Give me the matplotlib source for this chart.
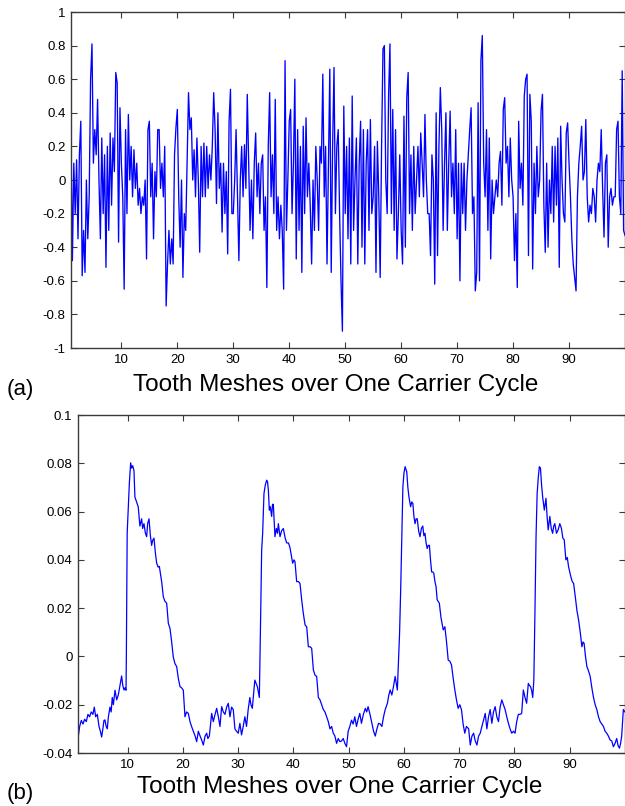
import numpy as np
import matplotlib
matplotlib.use("Agg")
import matplotlib.pyplot as plt
from matplotlib.ticker import FuncFormatter

plt.rcParams['font.family'] = ['Liberation Sans', 'DejaVu Sans']
plt.rcParams['axes.unicode_minus'] = False

# Panel (a): señal leida a 4 muestras por diente, desde x=1 hasta x=100
valores_a = [
    0.27, -0.48, 0.10, -0.20,
    0.12, -0.35, 0.15, 0.35,
    -0.57, -0.30, -0.55, 0.00,
    -0.35, -0.10, 0.60, 0.81,
    0.10, 0.30, 0.15, 0.48,
    0.00, -0.35, 0.25, -0.20,
    0.15, -0.52, 0.20, -0.30,
    0.28, -0.15, 0.25, 0.05,
    0.64, 0.58, -0.37, 0.43,
    0.10, -0.10, -0.65, 0.30,
    -0.20, 0.39, 0.00, 0.20,
    -0.10, 0.18, -0.05, 0.10,
    -0.15, -0.05, -0.20, -0.10,
    -0.15, 0.00, -0.47, 0.30,
    0.35, -0.10, 0.10, -0.35,
    0.05, -0.10, 0.30, 0.30,
    -0.05, 0.10, -0.10, 0.20,
    -0.75, -0.50, -0.30, -0.50,
    -0.35, -0.50, 0.15, 0.31,
    0.42, -0.10, -0.40, 0.00,
    -0.58, -0.20, -0.30, 0.10,
    0.52, 0.30, 0.37, 0.00,
    0.18, -0.10, 0.25, 0.00,
    -0.43, 0.20, -0.10, 0.22,
    -0.10, 0.20, -0.05, 0.15,
    0.00, 0.20, 0.52, 0.30,
    -0.14, 0.40, -0.05, 0.10,
    -0.31, 0.10, -0.20, 0.05,
    -0.44, 0.35, 0.54, -0.20,
    -0.20, 0.00, 0.30, -0.10,
    -0.48, 0.00, 0.20, -0.10,
    0.21, -0.05, 0.51, 0.10,
    -0.30, 0.00, -0.35, 0.10,
    0.28, -0.10, 0.10, -0.20,
    0.10, 0.15, -0.30, -0.10,
    -0.64, 0.20, 0.52, -0.10,
    0.15, -0.20, 0.48, -0.30,
    -0.10, -0.35, -0.15, -0.30,
    -0.65, 0.71, -0.30, 0.00,
    0.35, 0.42, -0.20, 0.10,
    0.60, -0.47, 0.30, -0.30,
    0.20, -0.55, 0.32, -0.20,
    0.37, -0.10, 0.10, -0.15,
    -0.50, 0.00, -0.30, 0.20,
    0.00, -0.30, 0.20, 0.10,
    0.63, -0.10, 0.20, -0.50,
    0.10, 0.66, -0.55, 0.20,
    0.67, -0.20, 0.20, 0.30,
    -0.20, -0.60, -0.90, 0.44,
    -0.20, 0.20, -0.35, 0.25,
    -0.50, 0.50, -0.30, 0.00,
    0.25, -0.50, 0.10, 0.35,
    -0.40, 0.30, -0.50, 0.10,
    0.30, -0.30, 0.36, -0.20,
    -0.10, 0.20, -0.55, 0.23,
    -0.10, -0.58, 0.20, 0.78,
    0.80, 0.00, -0.20, 0.50,
    0.81, -0.20, 0.42, -0.30,
    0.30, -0.47, -0.20, 0.15,
    -0.30, -0.50, 0.38, -0.40,
    0.49, 0.64, -0.20, 0.15,
    -0.30, 0.20, -0.20, 0.00,
    0.20, -0.10, 0.28, 0.10,
    -0.10, 0.39, 0.00, -0.20,
    -0.20, -0.45, 0.15, 0.00,
    -0.62, 0.40, -0.45, 0.20,
    0.55, 0.30, -0.30, 0.10,
    0.40, -0.30, 0.10, 0.41,
    -0.10, 0.10, -0.20, 0.30,
    -0.35, 0.10, -0.60, 0.10,
    -0.20, 0.10, -0.30, 0.00,
    0.15, 0.30, 0.43, -0.20,
    -0.10, -0.66, -0.55, 0.46,
    -0.60, 0.71, 0.86, 0.10,
    -0.10, 0.30, -0.30, 0.25,
    -0.47, 0.00, -0.20, -0.10,
    0.00, -0.10, 0.10, 0.17,
    -0.15, 0.42, 0.49, 0.10,
    0.20, -0.10, 0.25, 0.00,
    -0.10, -0.48, -0.20, -0.64,
    0.35, -0.05, 0.10, -0.15,
    0.50, 0.60, 0.63, -0.45,
    0.51, 0.35, -0.53, 0.10,
    -0.20, 0.20, -0.10, 0.00,
    0.41, 0.51, -0.15, -0.43,
    0.10, -0.40, 0.00, -0.20,
    0.20, -0.25, 0.20, -0.15,
    0.25, -0.52, 0.32, 0.00,
    -0.20, -0.25, 0.28, 0.34,
    0.10, -0.10, -0.35, -0.50,
    -0.58, -0.66, -0.10, 0.10,
    0.20, 0.32, 0.00, 0.05,
    0.36, -0.10, -0.25, -0.15,
    -0.20, -0.05, -0.10, -0.25,
    0.00, 0.10, 0.05, 0.30,
    -0.05, -0.34, 0.10, 0.15,
    -0.40, -0.10, -0.05, -0.15,
    -0.10, -0.10, 0.30, 0.35,
    -0.10, -0.20, 0.65, -0.30,
    -0.33,
]
x_a = 1 + 0.25 * np.arange(len(valores_a))

# Panel (b): puntos (x, y)
x_b = [1.0, 1.3, 1.6, 1.9, 2.2, 2.5, 2.8, 3.1, 3.4, 3.7, 3.95, 4.2, 4.5, 4.8, 5.05, 5.28,
       5.5, 5.7, 5.88, 6.1, 6.3, 6.5, 6.79, 7.0, 7.2, 7.4, 7.7, 8.0, 8.3, 8.6, 8.9, 9.1,
       9.32, 9.5, 9.69, 9.75, 9.81, 9.9, 10.1, 10.3, 10.53, 10.7, 10.9, 11.13, 11.3, 11.6,
       11.9, 12.2, 12.52, 12.7, 12.94, 13.2, 13.43, 13.6, 13.85, 14.1, 14.33, 14.5, 14.75,
       15.0, 15.24, 15.5, 15.72, 16.14, 16.44, 16.7, 17.05, 17.35, 17.65, 17.95, 18.25,
       18.55, 18.86, 19.15, 19.46, 19.75, 20.06, 20.36, 20.65, 20.97, 21.27, 21.57, 21.87,
       22.2, 22.48, 22.78, 23.1, 23.38, 23.68, 24.0, 24.29, 24.5, 24.77, 25.0, 25.19,
       25.49, 25.8, 26.1, 26.4, 26.7, 27.0, 27.3, 27.6, 27.9, 28.2, 28.5, 28.8, 29.1, 29.4,
       29.7, 30.0, 30.3, 30.6, 30.9, 31.2, 31.5, 31.8, 32.1, 32.3, 32.55, 32.8, 33.0, 33.2,
       33.46, 33.65, 33.82, 33.95, 34.06, 34.24, 34.42, 34.66, 34.9, 35.15, 35.3, 35.45,
       35.63, 35.8, 36.05, 36.2, 36.35, 36.65, 36.9, 37.1, 37.26, 37.56, 37.85, 38.16,
       38.5, 38.77, 39.1, 39.37, 39.85, 40.1, 40.27, 40.57, 40.9, 41.18, 41.48, 41.78,
       42.1, 42.39, 42.69, 43.0, 43.29, 43.6, 43.89, 44.2, 44.5, 44.8, 45.1, 45.4, 45.7,
       46.0, 46.3, 46.6, 46.9, 47.2, 47.5, 47.8, 48.1, 48.4, 48.7, 49.0, 49.3, 49.6, 49.9,
       50.2, 50.5, 50.8, 51.1, 51.4, 51.7, 52.0, 52.3, 52.65, 53.0, 53.25, 53.5, 53.85,
       54.2, 54.5, 54.8, 55.1, 55.4, 55.7, 56.0, 56.3, 56.6, 57.0, 57.25, 57.5, 57.8, 58.1,
       58.4, 58.6, 58.8, 59.2, 59.4, 59.5, 59.6, 59.8, 60.0, 60.2, 60.5, 60.7, 60.9, 61.2,
       61.4, 61.6, 61.8, 62.0, 62.2, 62.4, 62.65, 62.9, 63.15, 63.4, 63.6, 63.8, 64.0,
       64.2, 64.4, 64.6, 64.8, 65.0, 65.2, 65.4, 65.6, 65.8, 66.0, 66.4, 66.7, 67.1, 67.4,
       67.7, 68.0, 68.3, 68.6, 68.9, 69.2, 69.5, 69.8, 70.1, 70.4, 70.7, 71.0, 71.3, 71.7,
       72.0, 72.3, 72.6, 72.9, 73.2, 73.5, 73.8, 74.1, 74.4, 74.7, 75.0, 75.3, 75.6, 75.9,
       76.2, 76.5, 76.8, 77.1, 77.4, 77.7, 78.0, 78.3, 78.6, 78.9, 79.2, 79.5, 79.8, 80.1,
       80.4, 80.7, 81.0, 81.3, 81.6, 81.9, 82.2, 82.5, 82.7, 82.9, 83.1, 83.3, 83.5, 83.7,
       83.9, 84.1, 84.3, 84.5, 84.7, 84.9, 85.1, 85.4, 85.7, 85.9, 86.1, 86.4, 86.65, 86.9,
       87.1, 87.3, 87.6, 87.9, 88.2, 88.5, 88.75, 89.0, 89.3, 89.55, 89.8, 90.0, 90.2,
       90.45, 90.7, 91.0, 91.3, 91.6, 91.9, 92.2, 92.4, 92.6, 92.85, 93.1, 93.4, 93.7,
       94.0, 94.3, 94.6, 94.9, 95.2, 95.5, 95.8, 96.1, 96.4, 96.7, 97.0, 97.3, 97.6, 97.9,
       98.2, 98.5, 98.75, 99.0, 99.2, 99.4, 99.7, 100.0]
y_b = [-0.034, -0.029, -0.0265, -0.028, -0.026, -0.027, -0.024, -0.025, -0.023, -0.024,
       -0.021, -0.025, -0.024, -0.029, -0.031, -0.0334, -0.030, -0.0265, -0.0263, -0.029,
       -0.030, -0.025, -0.021, -0.023, -0.017, -0.020, -0.014, -0.018, -0.0159, -0.012,
       -0.0081, -0.012, -0.0139, -0.013, -0.014, 0.0, 0.0234, 0.051, 0.062, 0.072, 0.0802,
       0.078, 0.079, 0.077, 0.066, 0.064, 0.062, 0.054, 0.057, 0.053, 0.055, 0.051, 0.0496,
       0.055, 0.057, 0.050, 0.046, 0.048, 0.049, 0.043, 0.0386, 0.037, 0.0373, 0.031,
       0.0247, 0.023, 0.022, 0.0137, 0.0116, 0.006, -0.0003, -0.003, -0.0042, -0.009,
       -0.0125, -0.013, -0.014, -0.025, -0.023, -0.0236, -0.027, -0.0291, -0.031, -0.033,
       -0.0353, -0.031, -0.033, -0.0346, -0.0367, -0.033, -0.0318, -0.034, -0.033, -0.028,
       -0.0236, -0.027, -0.024, -0.0215, -0.025, -0.029, -0.0208, -0.023, -0.024, -0.021,
       -0.0194, -0.025, -0.021, -0.022, -0.030, -0.031, -0.0318, -0.0277, -0.0325, -0.029,
       -0.025, -0.029, -0.022, -0.017, -0.020, -0.0215, -0.015, -0.0098, -0.011, -0.0125,
       -0.015, -0.017, 0.0, 0.017, 0.044, 0.051, 0.0675, 0.071, 0.073, 0.0724, 0.069,
       0.0606, 0.062, 0.058, 0.063, 0.063, 0.0496, 0.053, 0.051, 0.055, 0.0496, 0.052,
       0.053, 0.049, 0.047, 0.047, 0.045, 0.0386, 0.040, 0.0393, 0.031, 0.031, 0.0302,
       0.0235, 0.0178, 0.013, 0.0123, 0.004, 0.004, 0.0034, -0.0056, -0.0077, -0.0083,
       -0.017, -0.018, -0.020, -0.022, -0.023, -0.025, -0.027, -0.030, -0.029, -0.0318,
       -0.033, -0.036, -0.034, -0.0353, -0.035, -0.034, -0.036, -0.0374, -0.031, -0.029,
       -0.0264, -0.028, -0.025, -0.029, -0.026, -0.0236, -0.0277, -0.024, -0.0215, -0.023,
       -0.0208, -0.024, -0.0277, -0.031, -0.033, -0.030, -0.0277, -0.028, -0.029, -0.025,
       -0.022, -0.0194, -0.016, -0.0139, -0.016, -0.0125, -0.0083, -0.011, -0.0139, 0.0096,
       0.0275, 0.0386, 0.051, 0.0703, 0.076, 0.0786, 0.0765, 0.070, 0.066, 0.062, 0.064,
       0.0634, 0.058, 0.055, 0.057, 0.057, 0.052, 0.0496, 0.053, 0.054, 0.050, 0.051,
       0.047, 0.0447, 0.046, 0.046, 0.040, 0.035, 0.035, 0.0344, 0.031, 0.029, 0.0235,
       0.022, 0.016, 0.011, 0.0123, 0.006, -0.0015, -0.002, -0.0035, -0.009, -0.0139,
       -0.018, -0.0215, -0.020, -0.022, -0.028, -0.0318, -0.029, -0.030, -0.0367, -0.033,
       -0.0318, -0.035, -0.0367, -0.033, -0.0318, -0.029, -0.0264, -0.0236, -0.030, -0.025,
       -0.022, -0.0277, -0.023, -0.0208, -0.025, -0.027, -0.021, -0.018, -0.020, -0.022,
       -0.025, -0.0277, -0.030, -0.0318, -0.031, -0.0318, -0.027, -0.024, -0.024, -0.0236,
       -0.0139, -0.017, -0.0194, -0.0112, -0.012, -0.0125, -0.014, -0.017, -0.0098, 0.018,
       0.0496, 0.0675, 0.074, 0.0786, 0.078, 0.071, 0.066, 0.0606, 0.0655, 0.058, 0.0524,
       0.058, 0.053, 0.051, 0.054, 0.055, 0.051, 0.0524, 0.055, 0.053, 0.049, 0.0483,
       0.040, 0.041, 0.037, 0.035, 0.033, 0.031, 0.0302, 0.0248, 0.019, 0.0151, 0.010,
       0.004, 0.006, 0.0054, 0.0, -0.0042, -0.006, -0.0083, -0.013, -0.017, -0.020, -0.022,
       -0.025, -0.027, -0.028, -0.029, -0.031, -0.0318, -0.033, -0.0346, -0.035, -0.0374,
       -0.036, -0.034, -0.037, -0.038, -0.036, -0.033, -0.022, -0.023]

ticks_x = [10, 20, 30, 40, 50, 60, 70, 80, 90]
ticks_a = [-1, -0.8, -0.6, -0.4, -0.2, 0, 0.2, 0.4, 0.6, 0.8, 1]
ticks_b = [-0.04, -0.02, 0, 0.02, 0.04, 0.06, 0.08, 0.1]
etiqueta_x = "Tooth Meshes over One Carrier Cycle"


def estilo_matlab(ax):
    for lado in ax.spines.values():
        lado.set_color('#3a3a3a')
        lado.set_linewidth(1.0)
    ax.tick_params(direction='in', length=4, width=0.8, color='#3a3a3a',
                   top=True, right=True, labelsize=9.5, pad=4)
    ax.xaxis.set_major_formatter(FuncFormatter(lambda v, p: '%g' % v))
    ax.yaxis.set_major_formatter(FuncFormatter(lambda v, p: '%g' % round(v, 4)))


fig = plt.figure(figsize=(6.25, 8.06), dpi=100)

ax1 = fig.add_axes([71 / 625, 1 - 348 / 806, 554 / 625, 336 / 806])
ax1.plot(x_a, valores_a, color='#0000ff', lw=0.95)
ax1.set_xlim(1, 100)
ax1.set_ylim(-1, 1)
ax1.set_xticks(ticks_x)
ax1.set_yticks(ticks_a)
estilo_matlab(ax1)

ax2 = fig.add_axes([78 / 625, 1 - 753 / 806, 547 / 625, 338 / 806])
ax2.plot(x_b, y_b, color='#0000ff', lw=0.9)
ax2.set_xlim(1, 100)
ax2.set_ylim(-0.04, 0.1)
ax2.set_xticks(ticks_x)
ax2.set_yticks(ticks_b)
estilo_matlab(ax2)

# etiquetas de eje y de panel
fig.text(336 / 625, 1 - 385 / 806, etiqueta_x, ha='center', va='center', fontsize=17.5)
fig.text(340 / 625, 1 - 787 / 806, etiqueta_x, ha='center', va='center', fontsize=17.5)
fig.text(7 / 625, 1 - 390 / 806, "(a)", ha='left', va='center', fontsize=16)
fig.text(7 / 625, 1 - 794 / 806, "(b)", ha='left', va='center', fontsize=16)

fig.savefig('out.png', dpi=100)
